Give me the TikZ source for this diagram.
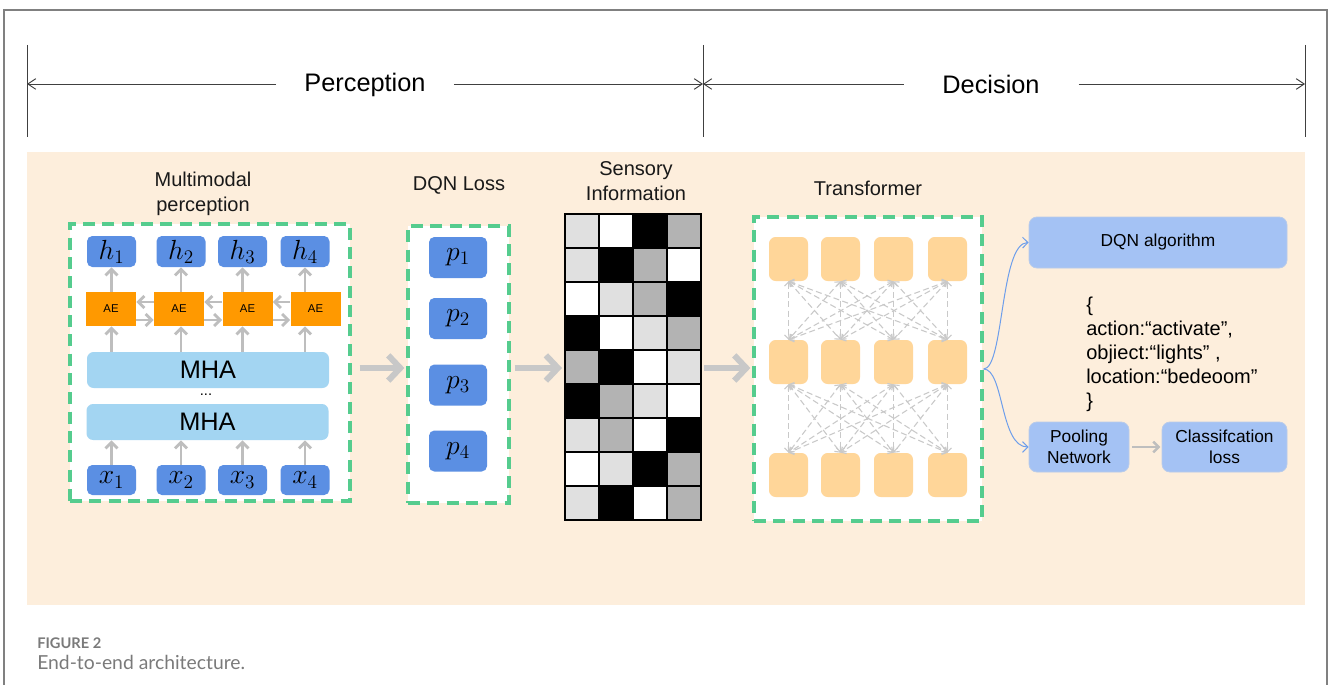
\documentclass[tikz,border=0pt]{standalone}
\usepackage{fontspec}
\setmainfont{Liberation Sans}
\newfontfamily\capfont{Lato}
\usetikzlibrary{arrows.meta}

\definecolor{peach}{HTML}{FDEEDC}
\definecolor{dashgreen}{HTML}{55CC8E}
\definecolor{tokblue}{HTML}{5B8FE3}
\definecolor{mhablue}{HTML}{A3D5F2}
\definecolor{aeorange}{HTML}{FF9900}
\definecolor{arrowgray}{HTML}{BEBEBE}
\definecolor{bigarrowgray}{HTML}{C8C8C8}
\definecolor{attngray}{HTML}{C9C9C9}
\definecolor{tfnode}{HTML}{FFD699}
\definecolor{boxblue}{HTML}{A4C2F4}
\definecolor{boxedge}{HTML}{B9CBEA}
\definecolor{curveblue}{HTML}{6D9EEB}
\definecolor{capgray}{HTML}{7A7A7A}
\definecolor{framegray}{HTML}{808080}
\definecolor{cellL}{HTML}{E0E0E0}
\definecolor{cellG}{HTML}{B3B3B3}

\tikzset{
  tok/.style={fill=tokblue, rounded corners=4pt, minimum width=36.75pt,
    minimum height=23.25pt, inner sep=0pt, font=\fontsize{21}{24}\selectfont},
  ptok/.style={tok, minimum width=43.5pt, minimum height=30.75pt},
  aebox/.style={fill=aeorange, minimum width=37.5pt, minimum height=25.5pt,
    inner sep=0pt, font=\fontsize{8.5}{10}\selectfont},
  mhabar/.style={fill=mhablue, rounded corners=5pt, minimum width=181.5pt,
    minimum height=27pt, inner sep=0pt, font=\fontsize{19}{22}\selectfont},
  gbox/.style={draw=dashgreen, fill=white, line width=2.4pt,
    dash pattern=on 9pt off 5.5pt, inner sep=0pt},
  tfn/.style={fill=tfnode, rounded corners=5pt, minimum width=29.25pt,
    minimum height=33pt, inner sep=0pt},
  bluebox/.style={fill=boxblue, draw=boxedge, line width=0.6pt, rounded corners=6pt,
    inner sep=0pt, align=center, font=\fontsize{13}{15.5}\selectfont},
  heading/.style={font=\fontsize{15}{18.5}\selectfont, align=center, text=black!90},
  garrow/.style={draw=arrowgray, line width=2.2pt, -{Straight Barb[length=4.5pt,width=9pt]}},
  bigarrow/.style={draw=bigarrowgray, line width=4.5pt, -{Straight Barb[length=9pt,width=19pt]}},
  attn/.style={draw=attngray, line width=0.8pt, dash pattern=on 4.5pt off 2.5pt,
    {Straight Barb[length=3pt,width=6pt]}-{Straight Barb[length=3pt,width=6pt]}},
  branch/.style={draw=curveblue, line width=0.75pt, -{Straight Barb[length=4pt,width=8pt]}},
  dimline/.style={draw=black!75, line width=0.7pt},
  dimarrow/.style={dimline, -{Straight Barb[length=6pt,width=8pt]}}
}

\begin{document}
\begin{tikzpicture}[x=0.75pt,y=-0.75pt]
\useasboundingbox (0,0) rectangle (1328,685);

% outer frame
\draw[framegray, line width=1.2pt] (4,685) -- (4,10) -- (1327,10) -- (1327,685);

% stage span markers
\coordinate (tickA1) at (27,45);   \coordinate (tickA2) at (27,137);
\coordinate (tickB1) at (703,45);  \coordinate (tickB2) at (703,137);
\coordinate (tickC1) at (1305,45); \coordinate (tickC2) at (1305,137);
\coordinate (spanL) at (27,84); \coordinate (spanM) at (703,84); \coordinate (spanR) at (1305,84);
\draw[dimline] (tickA1) -- (tickA2);
\draw[dimline] (tickB1) -- (tickB2);
\draw[dimline] (tickC1) -- (tickC2);
\node[font=\fontsize{19}{22}\selectfont, inner xsep=21pt] (perc) at (365,85) {Perception};
\node[font=\fontsize{19}{22}\selectfont, inner xsep=29pt] (deci) at (991,84) {Decision};
\draw[dimarrow] (perc.west |- spanL) -- (spanL);
\draw[dimarrow] (perc.east |- spanM) -- (spanM);
\draw[dimarrow] (deci.west) -- (spanM);
\draw[dimarrow] (deci.east) -- (spanR);

% panel background
\fill[peach] (27,152) rectangle (1305,605);

% ---------- multimodal perception ----------
\node[heading] (mmlabel) at (203,194) {Multimodal\\perception};
\node[gbox, minimum width=210pt, minimum height=207.75pt] (box1) at (210,362.5) {};

\foreach \i/\xx in {1/111.5,2/181,3/242.5,4/305}{
  \node[tok] (h\i) at (\xx,251.5) {$h_{\i}$};
  \node[tok, minimum height=22.5pt] (x\i) at (\xx,480) {$x_{\i}$};
}
\foreach \i/\xx in {1/111,2/179,3/247.5,4/315.5}{
  \node[aebox] (ae\i) at (\xx,309) {AE};
}
\node[mhabar] (mhaT) at (208,370) {MHA};
\node[mhabar] (mhaB) at (207.5,422) {MHA};
\node[font=\fontsize{11}{12}\selectfont, inner sep=0pt] (dots) at (206,395) {...};

\foreach \i in {1,...,4}{
  \draw[garrow] (x\i.north) -- (x\i.north |- mhaB.south);
  \draw[garrow] (mhaT.north -| h\i.south) -- (ae\i.south -| h\i.south);
  \draw[garrow] (ae\i.north -| h\i.south) -- (h\i.south);
}
\foreach \i/\j in {1/2,2/3,3/4}{
  \draw[garrow] ([yshift=5.25pt]ae\j.west) -- ([yshift=5.25pt]ae\i.east);
  \draw[garrow] ([yshift=-8.25pt]ae\i.east) -- ([yshift=-8.25pt]ae\j.west);
}

% ---------- DQN loss ----------
\node[heading] (dqnlabel) at (459,185) {DQN Loss};
\node[gbox, minimum width=75.75pt, minimum height=207.75pt] (box2) at (458.5,364.5) {};
\foreach \i/\yy in {1/257.5,2/318.5,3/385,4/451}{
  \node[ptok] (p\i) at (458,\yy) {$p_{\i}$};
}

% ---------- sensory information ----------
\node[heading] (senslabel) at (636,181) {Sensory\\Information};
\foreach \row [count=\r from 0] in {
  {cellL,white,black,cellG},{cellL,black,cellG,white},{white,cellL,cellG,black},
  {black,white,cellL,cellG},{cellG,black,white,cellL},{black,cellG,cellL,white},
  {cellL,cellG,white,black},{white,cellL,black,cellG},{cellL,black,white,cellG}}{
  \foreach \c [count=\k from 0] in \row {
    \filldraw[fill=\c, draw=black, line width=1.1pt]
      (565+34*\k,214+34*\r) rectangle ++(34,34);
  }
}
\node[draw=black, line width=1.5pt, minimum width=102pt, minimum height=229.5pt,
  inner sep=0pt] (grid) at (633,367) {};

% ---------- transformer ----------
\node[heading] (tflabel) at (868,188) {Transformer};
\node[gbox, minimum width=171pt, minimum height=228pt] (box3) at (868,369) {};
\foreach \i/\xx in {1/788.5,2/840.5,3/893.5,4/947.5}{
  \node[tfn] (ta\i) at (\xx,259) {};
  \node[tfn] (tb\i) at (\xx,362) {};
  \node[tfn] (tc\i) at (\xx,475) {};
}
\foreach \i in {1,...,4}{
  \foreach \j in {1,...,4}{
    \draw[attn] (ta\i.south) -- (tb\j.north);
    \draw[attn] (tb\i.south) -- (tc\j.north);
  }
}

% flow arrows between stages
\draw[bigarrow] ([shift={(8,5.5)}]box1.east) -- ([shift={(-2,3.5)}]box2.west);
\draw[bigarrow] ([shift={(4,3.5)}]box2.east) -- ([shift={(-2,1)}]grid.west);
\draw[bigarrow] ([shift={(2,1)}]grid.east) -- ([shift={(-2,-1)}]box3.west);

% ---------- decision heads ----------
\node[bluebox, minimum width=193.5pt, minimum height=38.25pt] (dqn) at (1158,242.5) {DQN algorithm};
\node[bluebox, minimum width=75pt, minimum height=37.5pt] (pool) at (1079,447) {Pooling\\Network};
\node[bluebox, minimum width=93.75pt, minimum height=37.5pt] (cls) at (1224.5,447) {Classifcation\\loss};
\node[anchor=west, align=left, inner sep=0pt, font=\fontsize{15}{18}\selectfont] (json) at (1086,354)
  {\{\\action:“activate”,\\objiect:“lights” ,\\location:“bedeoom”\\\}};

\draw[branch] (box3.east) .. controls (1004,369) and (1000,243) .. (dqn.west);
\draw[branch] (box3.east) .. controls (1004,369) and (1000,447) .. (pool.west);
\draw[draw=arrowgray, line width=1.8pt, -{Straight Barb[length=4pt,width=8pt]}]
  ([xshift=2pt]pool.east) -- ([xshift=-1pt]cls.west);

% ---------- caption ----------
\node[anchor=west, inner sep=0pt, text=capgray, font=\capfont\bfseries\fontsize{11}{13}\selectfont]
  (figno) at (37,643) {FIGURE 2};
\node[anchor=west, inner sep=0pt, text=capgray, font=\capfont\fontsize{14.5}{17}\selectfont]
  (figcap) at (37,662) {End-to-end architecture.};
\end{tikzpicture}
\end{document}
